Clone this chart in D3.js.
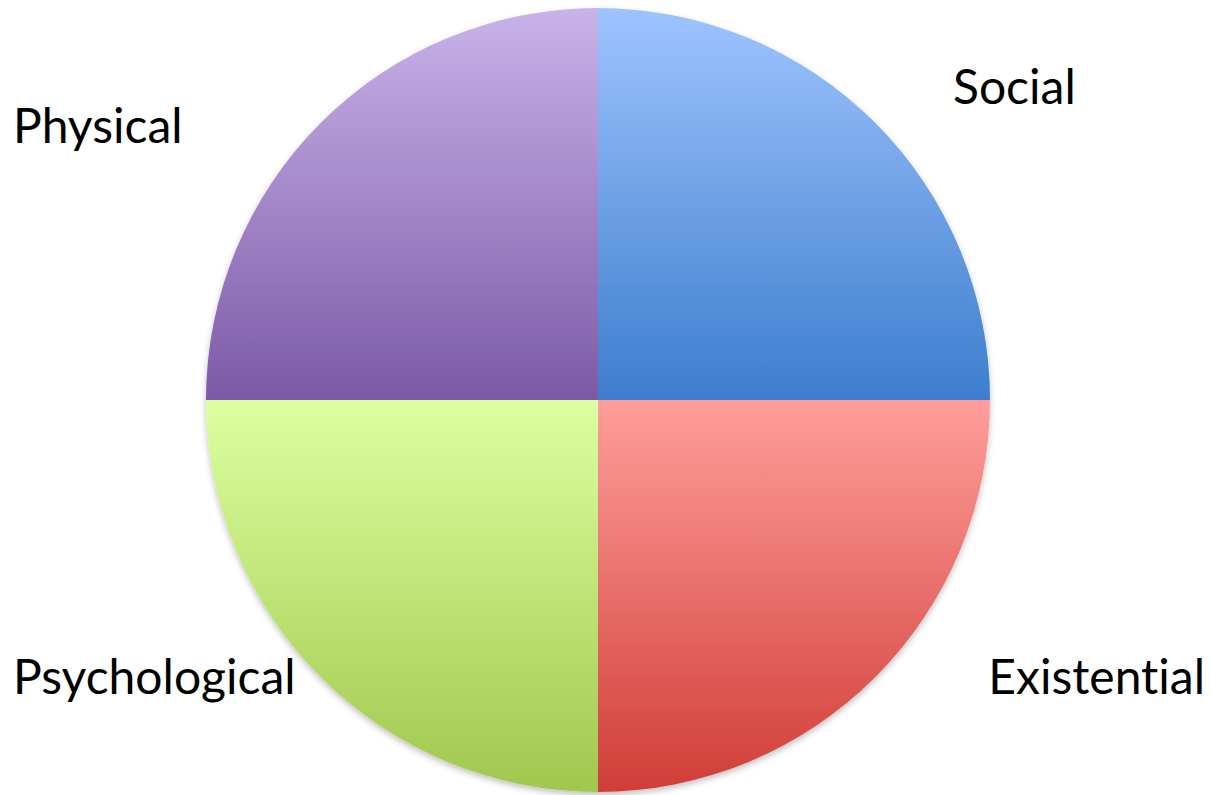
<!DOCTYPE html>
<html>
	<head>
		<meta charset="UTF-8">
		<title></title>
		<style type="text/css">
			html, body { margin: 0; padding: 0; background: #fff; }
			text { font-family: Lato, "Open Sans", sans-serif; fill: #000; font-variant-ligatures: none; }
		</style>
	</head>
	<body>
		<div class="chartBox"></div>
		<script src="https://cdn.jsdelivr.net/npm/d3@7/dist/d3.min.js"></script>
		<script type="text/javascript">
			// data
			var categories = ["Social", "Existential", "Psychological", "Physical"];
			var values = [1, 1, 1, 1];
			var topColors = ["#9ec4ff", "#ff9e9b", "#dcffa0", "#c9b3eb"];
			var bottomColors = ["#3d7dcc", "#d03d37", "#a0c84e", "#7c59a6"];

			var width = 1211, height = 795;
			var cx = 598, cy = 400, r = 392;

			var svg = d3.select(".chartBox")
				.append("svg")
				.attr("width", width)
				.attr("height", height);

			var defs = svg.append("defs");

			// soft shadow under the pie
			var f = defs.append("filter").attr("id", "shadow")
				.attr("x", "-10%").attr("y", "-10%").attr("width", "120%").attr("height", "120%");
			f.append("feDropShadow").attr("dx", 0).attr("dy", 3).attr("stdDeviation", 3)
				.attr("flood-color", "#000").attr("flood-opacity", 0.25);

			var pie = d3.pie().sort(null).value(function(d) { return d; });
			var arcs = pie(values);
			var arc = d3.arc().innerRadius(0).outerRadius(r);

			// one vertical gradient per slice, spanning the slice's own height
			// (coords are in the translated group's space, centre = 0,0)
			arcs.forEach(function(a, i) {
				var mid = (a.startAngle + a.endAngle) / 2;
				var isTop = Math.cos(mid) > 0;
				var g = defs.append("linearGradient")
					.attr("id", "grad" + i)
					.attr("gradientUnits", "userSpaceOnUse")
					.attr("x1", 0).attr("x2", 0)
					.attr("y1", isTop ? -r : 0)
					.attr("y2", isTop ? 0 : r);
				g.append("stop").attr("offset", "0%").attr("stop-color", topColors[i]);
				g.append("stop").attr("offset", "100%").attr("stop-color", bottomColors[i]);
			});

			var g = svg.append("g")
				.attr("transform", "translate(" + cx + "," + cy + ")")
				.attr("filter", "url(#shadow)");

			g.selectAll("path")
				.data(arcs)
				.enter()
				.append("path")
				.attr("d", arc)
				.attr("fill", function(d, i) { return "url(#grad" + i + ")"; });

			// labels sit in the corners, on the side of their slice
			var labelPos = [
				{ x: 953, y: 104, anchor: "start" },
				{ x: 1205, y: 694, anchor: "end" },
				{ x: 13, y: 694, anchor: "start" },
				{ x: 13, y: 143, anchor: "start" }
			];

			svg.selectAll("text.lbl")
				.data(categories)
				.enter()
				.append("text")
				.attr("class", "lbl")
				.attr("x", function(d, i) { return labelPos[i].x; })
				.attr("y", function(d, i) { return labelPos[i].y; })
				.attr("text-anchor", function(d, i) { return labelPos[i].anchor; })
				.style("font-size", "48px")
				.text(function(d) { return d; });
		</script>
	</body>
</html>
